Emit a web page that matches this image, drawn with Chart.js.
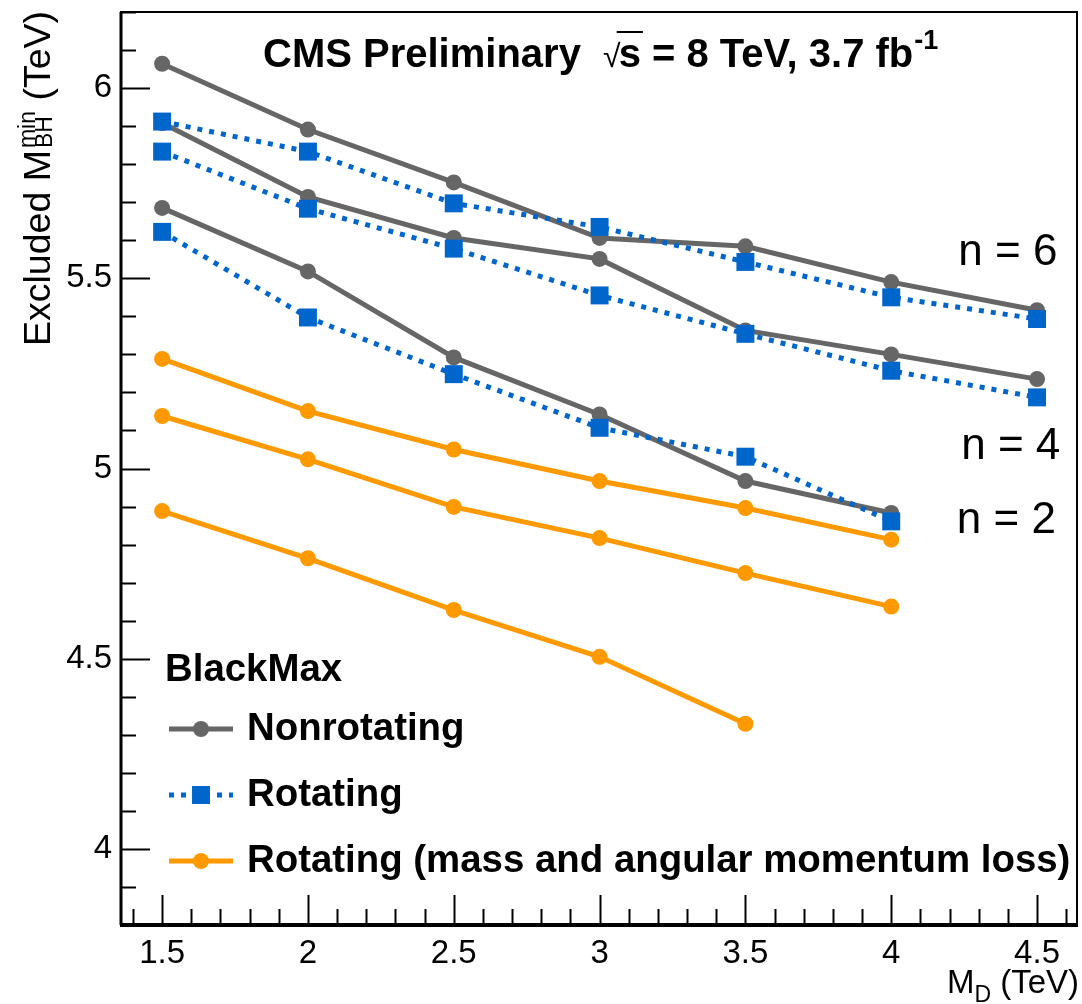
<!DOCTYPE html>
<html>
<head>
<meta charset="utf-8">
<script src="https://cdn.jsdelivr.net/npm/chart.js@4.4.1/dist/chart.umd.min.js"></script>
<style>
  html, body { margin: 0; padding: 0; background: #fff; }
  #wrap { width: 1082px; height: 1004px; position: relative; }
</style>
</head>
<body>
<div id="wrap"><canvas id="limitChart"></canvas></div>
<script>
// M_D points (TeV) and excluded M_BH^min values (TeV)
const mdPoints = [1.5, 2, 2.5, 3, 3.5, 4, 4.5];
const mdTicks = [1.5, 2, 2.5, 3, 3.5, 4, 4.5];
const massTicks = [4, 4.5, 5, 5.5, 6];

const nonrotN6 = [6.064, 5.891, 5.752, 5.606, 5.584, 5.490, 5.416];
const nonrotN4 = [5.908, 5.714, 5.606, 5.551, 5.363, 5.300, 5.235];
const nonrotN2 = [5.685, 5.518, 5.292, 5.142, 4.967, 4.883];

const rotN6 = [5.912, 5.833, 5.697, 5.635, 5.543, 5.450, 5.393];
const rotN4 = [5.833, 5.683, 5.578, 5.455, 5.354, 5.257, 5.187];
const rotN2 = [5.622, 5.397, 5.248, 5.107, 5.031, 4.861];

const lossN6 = [5.288, 5.151, 5.050, 4.967, 4.896, 4.813];
const lossN4 = [5.138, 5.024, 4.899, 4.817, 4.725, 4.637];
const lossN2 = [4.888, 4.764, 4.628, 4.505, 4.329];

// labels next to the curves, in data coordinates
const nLabels = [
  { text: 'n = 6', x: 4.23, y: 5.535 },
  { text: 'n = 4', x: 4.24, y: 5.024 },
  { text: 'n = 2', x: 4.225, y: 4.83 }
];

const FONT = '"Liberation Sans", Arial, Helvetica, sans-serif';
const GRAY = 'rgb(102,102,102)';
const BLUE = 'rgb(0,102,204)';
const ORANGE = 'rgb(255,153,0)';

function pts(arr) {
  return arr.map((y, i) => ({ x: mdPoints[i], y: y }));
}

const styles = {
  nonrot: { borderColor: GRAY, backgroundColor: GRAY, borderWidth: 5, pointStyle: 'circle', pointRadius: 8, order: 3 },
  rot: { borderColor: BLUE, backgroundColor: BLUE, borderWidth: 5, borderDash: [5, 7], pointStyle: 'rect', pointRadius: 12.7, order: 1 },
  loss: { borderColor: ORANGE, backgroundColor: ORANGE, borderWidth: 5, pointStyle: 'circle', pointRadius: 8, order: 2 }
};

function ds(label, arr, kind) {
  return Object.assign({ label: label, data: pts(arr), pointBorderWidth: 0, tension: 0, fill: false }, styles[kind]);
}

const datasets = [
  ds('Rotating n=6', rotN6, 'rot'),
  ds('Rotating n=4', rotN4, 'rot'),
  ds('Rotating n=2', rotN2, 'rot'),
  ds('Loss n=6', lossN6, 'loss'),
  ds('Loss n=4', lossN4, 'loss'),
  ds('Loss n=2', lossN2, 'loss'),
  ds('Nonrotating n=6', nonrotN6, 'nonrot'),
  ds('Nonrotating n=4', nonrotN4, 'nonrot'),
  ds('Nonrotating n=2', nonrotN2, 'nonrot')
];

const legendItems = [
  { text: 'Nonrotating', kind: 'nonrot' },
  { text: 'Rotating', kind: 'rot' },
  { text: 'Rotating (mass and angular momentum loss)', kind: 'loss' }
];

// frame + ROOT style inside ticks
const rootFrame = {
  id: 'rootFrame',
  afterDraw(chart) {
    const ctx = chart.ctx;
    const a = chart.chartArea;
    const xs = chart.scales.x, ys = chart.scales.y;
    ctx.save();
    ctx.strokeStyle = '#000';
    // x ticks every 0.1
    ctx.lineWidth = 2;
    for (let i = 14; i <= 46; i++) {
      const px = Math.round(xs.getPixelForValue(i / 10)) + 0.5;
      const len = (i % 5 === 0) ? 30 : 16;
      ctx.beginPath();
      ctx.moveTo(px, a.bottom);
      ctx.lineTo(px, a.bottom - len);
      ctx.stroke();
    }
    for (let i = 38; i <= 62; i++) {
      const py = Math.round(ys.getPixelForValue(i / 10)) + 0.5;
      const len = (i % 5 === 0) ? 29 : 15;
      ctx.beginPath();
      ctx.moveTo(a.left, py);
      ctx.lineTo(a.left + len, py);
      ctx.stroke();
    }
    // frame
    ctx.lineWidth = 2;
    ctx.strokeRect(a.left, a.top, a.right - a.left, a.bottom - a.top);
    ctx.lineWidth = 3;
    ctx.beginPath();
    ctx.moveTo(a.left, a.top);
    ctx.lineTo(a.left, a.bottom);
    ctx.stroke();
    ctx.lineWidth = 4;
    ctx.beginPath();
    ctx.moveTo(a.left - 1, a.bottom);
    ctx.lineTo(a.right + 1, a.bottom);
    ctx.stroke();
    ctx.restore();
  }
};

function drawMarker(ctx, kind, x, y) {
  const st = styles[kind];
  ctx.fillStyle = st.backgroundColor;
  if (st.pointStyle === 'rect') {
    const h = st.pointRadius * Math.SQRT1_2;
    ctx.fillRect(x - h, y - h, 2 * h, 2 * h);
  } else {
    ctx.beginPath();
    ctx.arc(x, y, st.pointRadius, 0, Math.PI * 2);
    ctx.fill();
  }
}

const textLayer = {
  id: 'textLayer',
  afterDraw(chart) {
    const ctx = chart.ctx;
    const a = chart.chartArea;
    const xs = chart.scales.x, ys = chart.scales.y;
    ctx.save();
    ctx.fillStyle = '#000';
    ctx.textBaseline = 'alphabetic';
    ctx.textAlign = 'left';

    // header
    let x = 263;
    const by = 67;
    ctx.font = 'bold 40px ' + FONT;
    const head = 'CMS Preliminary  ';
    ctx.fillText(head, x, by);
    x += ctx.measureText(head).width;
    ctx.font = '32px ' + FONT;
    ctx.fillText('\u221A', x, by);
    const rootW = ctx.measureText('\u221A').width;
    x += rootW - 2;
    ctx.font = 'bold 40px ' + FONT;
    const sW = ctx.measureText('s').width;
    ctx.fillText('s', x, by);
    ctx.lineWidth = 2;
    ctx.beginPath();
    ctx.moveTo(x - 2, by - 35);
    ctx.lineTo(x + sW + 2, by - 35);
    ctx.stroke();
    x += sW;
    const rest = ' = 8 TeV, 3.7 fb';
    ctx.fillText(rest, x, by);
    x += ctx.measureText(rest).width;
    ctx.font = 'bold 27px ' + FONT;
    ctx.fillText('-1', x + 1, by - 18);

    // n labels
    ctx.font = '44px ' + FONT;
    nLabels.forEach(l => {
      ctx.fillText(l.text, xs.getPixelForValue(l.x), ys.getPixelForValue(l.y));
    });

    // legend
    ctx.font = 'bold 38.4px ' + FONT;
    ctx.fillText('BlackMax', 165, 681);
    const rowY = [729, 795, 861];
    legendItems.forEach((it, i) => {
      const st = styles[it.kind];
      const y = rowY[i];
      ctx.save();
      ctx.strokeStyle = st.borderColor;
      ctx.lineWidth = st.borderWidth;
      ctx.setLineDash(st.borderDash || []);
      ctx.beginPath();
      ctx.moveTo(169, y);
      ctx.lineTo(233, y);
      ctx.stroke();
      ctx.restore();
      drawMarker(ctx, it.kind, 201, y);
      ctx.fillStyle = '#000';
      ctx.font = 'bold 38.4px ' + FONT;
      ctx.fillText(it.text, 247, y + 11);
    });

    // x axis title, right aligned
    ctx.font = '33px ' + FONT;
    const tail = ' (TeV)';
    const tailW = ctx.measureText(tail).width;
    ctx.font = '23px ' + FONT;
    const dW = ctx.measureText('D').width;
    ctx.font = '33px ' + FONT;
    const mW = ctx.measureText('M').width;
    let tx = a.right + 2 - tailW - dW - mW;
    const ty = 993;
    ctx.fillText('M', tx, ty);
    ctx.font = '23px ' + FONT;
    ctx.fillText('D', tx + mW, ty + 9);
    ctx.font = '33px ' + FONT;
    ctx.fillText(tail, tx + mW + dW, ty);

    // y axis title, rotated, right aligned to top of frame
    ctx.save();
    ctx.translate(50, a.top + 1);
    ctx.rotate(-Math.PI / 2);
    ctx.font = '37.5px ' + FONT;
    const p1 = 'Excluded M';
    const p1W = ctx.measureText(p1).width;
    const p3 = ' (TeV)';
    const p3W = ctx.measureText(p3).width;
    ctx.font = '23px ' + FONT;
    const supW = ctx.measureText('min').width;
    const subW = ctx.measureText('BH').width;
    const p2W = Math.max(supW, subW);
    const total = p1W + p2W + p3W;
    let rx = -total;
    ctx.font = '37.5px ' + FONT;
    ctx.fillText(p1, rx, 0);
    rx += p1W;
    ctx.font = '23px ' + FONT;
    ctx.fillText('min', rx + 2, -15);
    ctx.fillText('BH', rx + 2, 2);
    rx += p2W + 2;
    ctx.font = '37.5px ' + FONT;
    ctx.fillText(p3, rx, 0);
    ctx.restore();

    ctx.restore();
  }
};

function noPad(s) {
  s.paddingTop = 0;
  s.paddingBottom = 0;
  s.paddingLeft = 0;
  s.paddingRight = 0;
}

new Chart(document.getElementById('limitChart').getContext('2d'), {
  type: 'line',
  data: { datasets: datasets },
  options: {
    responsive: true,
    maintainAspectRatio: false,
    animation: false,
    layout: { autoPadding: false, padding: { top: 12, right: 5, left: 0, bottom: 0 } },
    plugins: {
      legend: { display: false },
      tooltip: { enabled: false }
    },
    scales: {
      x: {
        type: 'linear',
        min: 1.359,
        max: 4.637,
        afterBuildTicks: s => { s.ticks = mdTicks.map(v => ({ value: v })); },
        afterFit: s => { s.height = 79; noPad(s); },
        grid: { display: false, drawTicks: false },
        border: { display: false },
        ticks: {
          color: '#000',
          font: { family: FONT, size: 33 },
          padding: 9,
          maxRotation: 0,
          autoSkip: false,
          callback: v => String(v)
        }
      },
      y: {
        type: 'linear',
        min: 3.8,
        max: 6.2,
        afterBuildTicks: s => { s.ticks = massTicks.map(v => ({ value: v })); },
        afterFit: s => { s.width = 121; noPad(s); },
        grid: { display: false, drawTicks: false },
        border: { display: false },
        ticks: {
          color: '#000',
          font: { family: FONT, size: 33 },
          padding: 9,
          autoSkip: false,
          callback: v => String(v)
        }
      }
    }
  },
  plugins: [rootFrame, textLayer]
});
</script>
</body>
</html>
